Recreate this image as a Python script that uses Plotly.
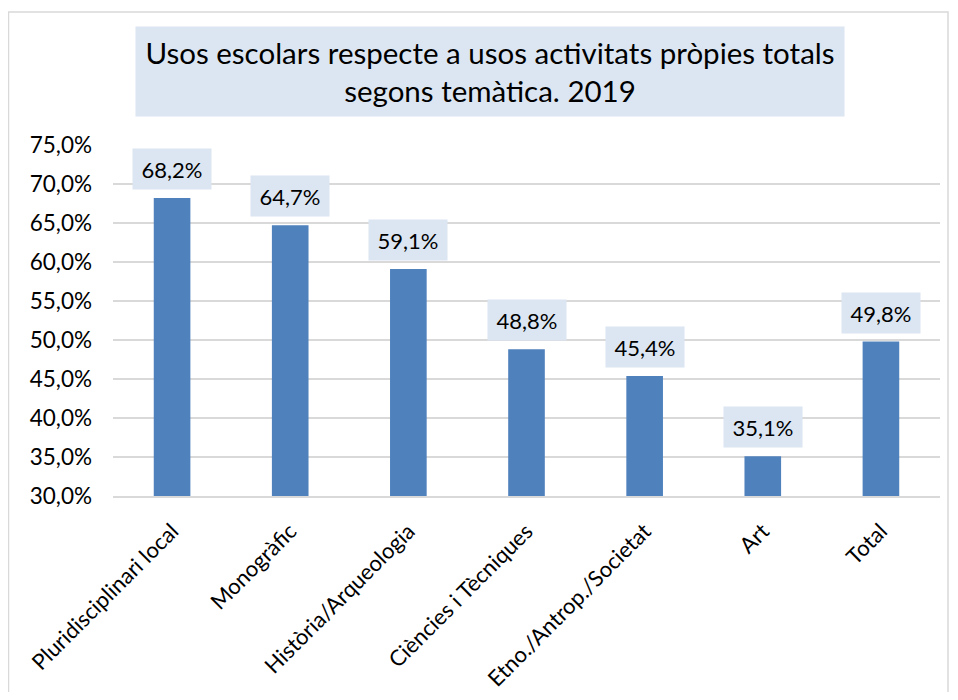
import plotly.graph_objects as go

categories = ["Pluridisciplinari local", "Monogràfic", "Història/Arqueologia",
              "Ciències i Tècniques", "Etno./Antrop./Societat", "Art", "Total"]
values = [68.2, 64.7, 59.1, 48.8, 45.4, 35.1, 49.8]
tick_vals = [30, 35, 40, 45, 50, 55, 60, 65, 70, 75]
tick_text = [f"{v:.1f}%".replace(".", ",") for v in tick_vals]
title_text = "Usos escolars respecte a usos activitats pròpies totals<br>segons temàtica. 2019"

# the page body adds an 8px margin; work in figure coordinates
W, H = 942, 684
L, R, T, B = 105, 10, 137, 196
pw, ph = W - L - R, H - T - B

def px(x):
    return (x - L) / pw

def py(y):
    return (H - B - y) / ph

FONT = "Lato"
BLUE = "#4F81BD"
LBLUE = "#DCE6F2"
GRID = "#D9D9D9"

fig = go.Figure(go.Bar(x=categories, y=values, marker=dict(color=BLUE, line=dict(width=0)),
                       width=0.31, hoverinfo="skip"))

annotations = []
for c, v in zip(categories, values):
    annotations.append(dict(x=c, y=v, xref="x", yref="y", text=f"{v:.1f}%".replace(".", ","),
                            showarrow=False, yanchor="bottom", yshift=8, bgcolor=LBLUE,
                            width=76, height=38, font=dict(family=FONT, size=22, color="#000000")))
annotations.append(dict(x=px(482), y=py(63.5), xref="paper", yref="paper", text=title_text,
                        showarrow=False, xanchor="center", yanchor="middle", bgcolor=LBLUE,
                        width=706, height=87, font=dict(family=FONT, size=29.5, color="#000000")))

fig.update_layout(
    width=W, height=H,
    margin=dict(l=L, r=R, t=T, b=B),
    paper_bgcolor="white", plot_bgcolor="white",
    showlegend=False,
    annotations=annotations,
    shapes=[dict(type="rect", xref="paper", yref="paper", x0=px(0.5), x1=px(940), y0=py(700), y1=py(4),
                 line=dict(color=GRID, width=1.5), fillcolor="rgba(0,0,0,0)", layer="below")],
    xaxis=dict(tickangle=-45, tickfont=dict(family=FONT, size=22, color="#000000"),
               showline=True, linecolor=GRID, linewidth=1.5, ticks="", showgrid=False,
               ticklabelstandoff=12, automargin=False),
    yaxis=dict(range=[30, 75], tickvals=tick_vals, ticktext=tick_text,
               tickfont=dict(family=FONT, size=22.5, color="#000000"),
               showgrid=True, gridcolor=GRID, gridwidth=1.5, zeroline=False, showline=False,
               ticks="", ticklabelstandoff=20, automargin=False),
)

fig.write_html("out.html")
